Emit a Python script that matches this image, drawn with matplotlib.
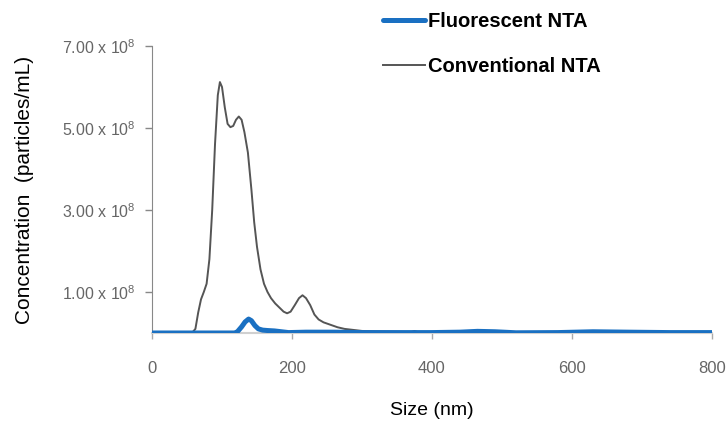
import matplotlib.pyplot as plt
from matplotlib.ticker import FuncFormatter

# Size (nm) and concentration (x 1e8 particles/mL)
conv_size = [0, 55, 58, 62, 66, 70, 74, 78, 82, 86, 90, 94, 97, 100, 104, 108, 112,
             116, 120, 124, 128, 132, 137, 142, 146, 150, 155, 160, 165, 170, 176,
             182, 188, 193, 198, 204, 210, 215, 220, 226, 232, 238, 245, 255, 265,
             275, 290, 300, 320, 350, 370, 375, 380, 420, 500, 600, 700, 800]
conv_conc = [0, 0, 0.02, 0.1, 0.5, 0.82, 1.0, 1.2, 1.8, 3.0, 4.6, 5.8, 6.12, 6.0,
             5.5, 5.1, 5.02, 5.05, 5.2, 5.28, 5.2, 4.9, 4.4, 3.5, 2.7, 2.1, 1.55,
             1.2, 1.0, 0.85, 0.72, 0.62, 0.52, 0.48, 0.52, 0.68, 0.85, 0.92, 0.85,
             0.68, 0.45, 0.33, 0.26, 0.2, 0.14, 0.1, 0.07, 0.05, 0.04, 0.03, 0.02,
             0.05, 0.02, 0.01, 0.01, 0.01, 0.01, 0.01]

fluo_size = [0, 118, 122, 128, 133, 138, 142, 147, 152, 158, 165, 175, 185, 195,
             220, 260, 300, 350, 400, 440, 465, 490, 520, 580, 630, 680, 740, 800]
fluo_conc = [0, 0, 0.03, 0.15, 0.27, 0.34, 0.3, 0.18, 0.1, 0.07, 0.06, 0.05, 0.03,
             0.01, 0.02, 0.02, 0.01, 0.01, 0.01, 0.02, 0.04, 0.03, 0.005, 0.01,
             0.03, 0.02, 0.01, 0.01]

x_ticks = [0, 200, 400, 600, 800]
y_ticks = [1e8, 3e8, 5e8, 7e8]

font = ['Liberation Sans', 'DejaVu Sans']
plt.rcParams['font.family'] = font
plt.rcParams['mathtext.fontset'] = 'custom'
plt.rcParams['mathtext.rm'] = 'Liberation Sans'

fig = plt.figure(figsize=(7.28, 4.25), dpi=100)
ax = fig.add_axes([0.2088, 0.2165, 0.7692, 0.6753])

ax.plot(fluo_size, [v * 1e8 for v in fluo_conc], color='#1a70c2', lw=3.6,
        label='Fluorescent NTA', solid_capstyle='round', solid_joinstyle='round',
        zorder=3)
ax.plot(conv_size, [v * 1e8 for v in conv_conc], color='#555555', lw=1.4,
        label='Conventional NTA', solid_joinstyle='round', zorder=2)

ax.set_xlim(0, 800)
ax.set_ylim(0, 7e8)
ax.set_xticks(x_ticks)
ax.set_yticks(y_ticks)


def fmt(v, pos):
    return r'%.2f x 10$^{8}$' % (v / 1e8)


ax.yaxis.set_major_formatter(FuncFormatter(fmt))
ax.tick_params(axis='y', colors='#888888', labelcolor='#666666', labelsize=11.5,
               length=5, width=1, pad=7)
ax.tick_params(axis='x', colors='#aaaaaa', labelcolor='#666666', labelsize=12,
               length=4, width=1, pad=16)

for side in ['top', 'right']:
    ax.spines[side].set_visible(False)
ax.spines['left'].set_color('#888888')
ax.spines['bottom'].set_color('#d0d0d0')
ax.spines['bottom'].set_linewidth(1.5)

ax.set_xlabel('Size (nm)', fontsize=14, labelpad=19)
ax.set_ylabel('Concentration  (particles/mL)', fontsize=15, labelpad=20)

leg = fig.legend(loc='upper left', bbox_to_anchor=(383 / 728, 0.972), frameon=False,
                 handlelength=2.1, handletextpad=0.15, labelspacing=1.3,
                 borderpad=0, borderaxespad=0,
                 prop={'weight': 'bold', 'size': 14.5, 'family': font})

fig.savefig('out.png', dpi=100)
